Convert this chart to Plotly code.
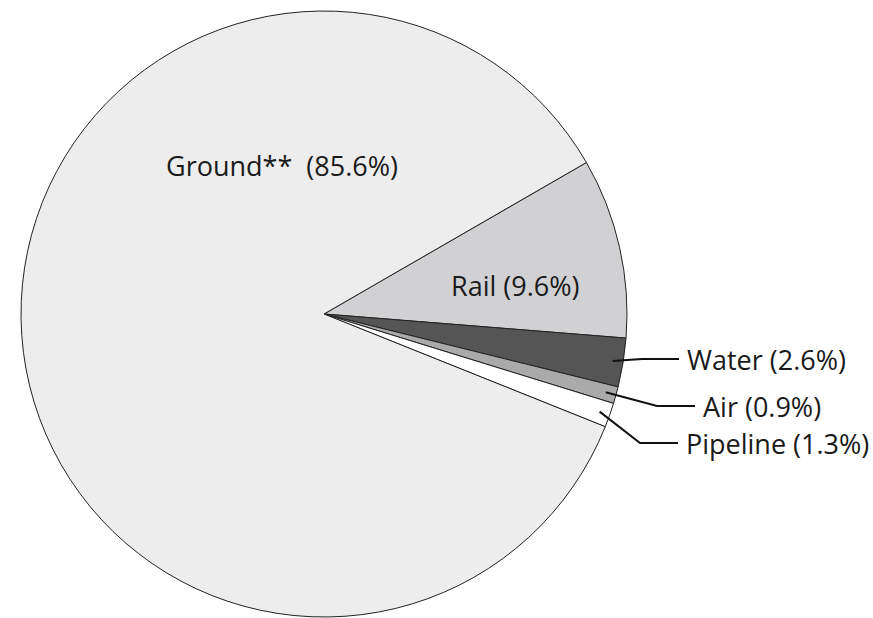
import math
import plotly.graph_objects as go

# Freight share by mode
modes = ["Rail", "Water", "Air", "Pipeline", "Ground**"]
shares = [9.6, 2.6, 0.9, 1.3, 85.6]
colors = ["#d1d1d3", "#555555", "#aaaaaa", "#ffffff", "#ededed"]

W, H = 873, 618
CX, CY, R = 324, 314, 303          # pie centre / radius in pixels
START_DEG = 30                      # first slice starts 30 deg above 3 o'clock

fig = go.Figure(go.Pie(
    labels=modes,
    values=shares,
    sort=False,
    direction="clockwise",
    rotation=90 - START_DEG,
    marker=dict(colors=colors, line=dict(color="#222222", width=1)),
    textinfo="none",
    hoverinfo="label+value",
    domain=dict(x=[(CX - R) / W, (CX + R) / W], y=[(H - CY - R) / H, (H - CY + R) / H]),
    showlegend=False,
))

FONT = dict(family="Open Sans, Noto Sans, sans-serif", size=27, color="#1a1a1a")


def px_to_paper(x, y):
    return x / W, 1 - y / H


annotations = []
shapes = []

# Labels inside the large slices
inside = {"Ground**": (282, 165, "Ground**  (85.6%)"), "Rail": (515, 285, "Rail (9.6%)")}
for name, (x, y, txt) in inside.items():
    px, py = px_to_paper(x, y)
    annotations.append(dict(x=px, y=py, xref="paper", yref="paper", text=txt,
                            showarrow=False, font=FONT, xanchor="center", yanchor="middle"))

# Small slices get leader lines from slice middle to an external label
outside = {"Water": (642, 359, 679), "Air": (657, 406, 695), "Pipeline": (640, 443, 678)}
total = sum(shares)
angle = START_DEG
for name, val in zip(modes, shares):
    span = 360 * val / total
    mid = angle - span / 2
    angle -= span
    if name not in outside:
        continue
    bx, by, ex = outside[name]
    r = 0.965 * R
    sx = CX + r * math.cos(math.radians(mid))
    sy = CY - r * math.sin(math.radians(mid))
    pts = [px_to_paper(sx, sy), px_to_paper(bx, by), px_to_paper(ex, by)]
    path = "M {} {} L {} {} L {} {}".format(*[c for p in pts for c in p])
    shapes.append(dict(type="path", path=path, xref="paper", yref="paper",
                       line=dict(color="#111111", width=2)))
    tx, ty = px_to_paper(ex + 6, by)
    annotations.append(dict(x=tx, y=ty, xref="paper", yref="paper",
                            text=f"{name} ({val}%)", showarrow=False, font=FONT,
                            xanchor="left", yanchor="middle"))

fig.update_layout(
    width=W, height=H,
    margin=dict(l=0, r=0, t=0, b=0),
    paper_bgcolor="white",
    plot_bgcolor="white",
    annotations=annotations,
    shapes=shapes,
)

fig.write_html("out.html")
